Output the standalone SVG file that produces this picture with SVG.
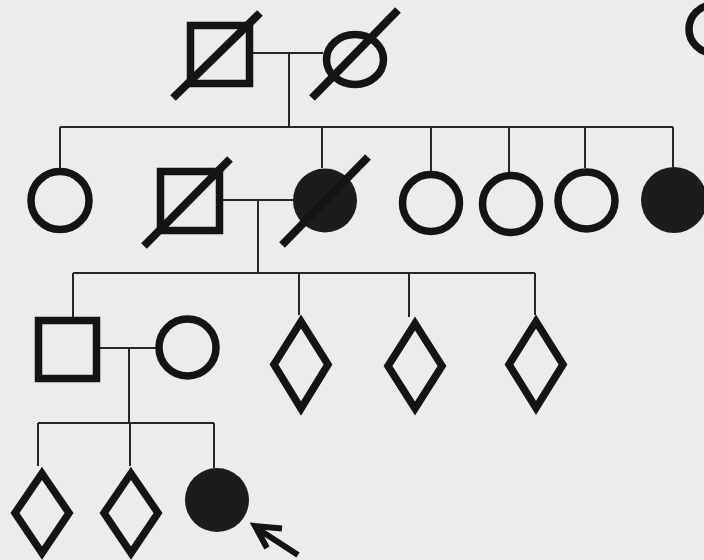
<svg xmlns="http://www.w3.org/2000/svg" width="704" height="560" viewBox="0 0 704 560">
  <style>
    .sym { fill: none; stroke: #141414; stroke-width: 7.5; stroke-linejoin: miter; }
    .aff { fill: #1c1c1c; stroke: none; }
    .dead { stroke: #141414; stroke-width: 8; stroke-linecap: butt; }
    .con { fill: none; stroke: #262626; stroke-width: 2; }
    .arrow { fill: none; stroke: #141414; stroke-width: 6; stroke-linecap: butt; stroke-linejoin: miter; }
  </style>
  <rect width="704" height="560" fill="#ececec"/>

  <g id="connectors">
    <!-- Generation I -->
    <path class="con" d="M253 53 H323 M289 53 V127"/>
    <path class="con" d="M60 127 H673"/>
    <path class="con" d="M60 127 V168 M322 127 V168 M431 127 V171 M509 127 V172 M585 127 V168 M673 127 V167"/>
    <!-- Generation II -->
    <path class="con" d="M223 200 H293 M258 200 V273"/>
    <path class="con" d="M73 273 H535"/>
    <path class="con" d="M73 273 V317 M299 273 V315 M409 273 V317 M535 273 V315"/>
    <!-- Generation III -->
    <path class="con" d="M100 348 H156 M129 348 V423"/>
    <path class="con" d="M38 423 H214"/>
    <path class="con" d="M38 423 V466 M130 423 V466 M214 423 V468"/>
  </g>

  <g id="I-1">
    <rect class="sym" x="190.5" y="25.5" width="59" height="58"/>
    <line class="dead" x1="173" y1="98" x2="260" y2="13"/>
  </g>
  <g id="I-2">
    <ellipse class="sym" cx="355" cy="59.5" rx="28.5" ry="25"/>
    <line class="dead" x1="312" y1="98" x2="398" y2="10"/>
  </g>
  <g id="partial-top-right">
    <circle class="sym" cx="713" cy="29" r="24"/>
  </g>

  <g id="II-1"><circle class="sym" cx="60" cy="200.5" r="29"/></g>
  <g id="II-2">
    <rect class="sym" x="160.5" y="171.5" width="59" height="59"/>
    <line class="dead" x1="144" y1="246" x2="230" y2="159"/>
  </g>
  <g id="II-3">
    <circle class="aff" cx="325" cy="200.5" r="32"/>
    <line class="dead" x1="282" y1="245" x2="368" y2="157"/>
  </g>
  <g id="II-4"><circle class="sym" cx="431" cy="203" r="28.5"/></g>
  <g id="II-5"><circle class="sym" cx="511" cy="204" r="28.5"/></g>
  <g id="II-6"><circle class="sym" cx="586.5" cy="200.5" r="28.5"/></g>
  <g id="II-7"><circle class="aff" cx="674" cy="200" r="33"/></g>

  <g id="III-1"><rect class="sym" x="38.5" y="320.5" width="58" height="58"/></g>
  <g id="III-2"><circle class="sym" cx="187.5" cy="347.5" r="28.5"/></g>
  <g id="III-3"><polygon class="sym" points="301,321.5 328,364.5 301,408.5 274,364.5"/></g>
  <g id="III-4"><polygon class="sym" points="415,323.5 442,366 415,408.5 388,366"/></g>
  <g id="III-5"><polygon class="sym" points="536,321.5 563,364.5 536,408 509,364.5"/></g>

  <g id="IV-1"><polygon class="sym" points="42,473.5 69,513 42,553 15,513"/></g>
  <g id="IV-2"><polygon class="sym" points="131,473.5 158,513 131,553 104,513"/></g>
  <g id="IV-3"><circle class="aff" cx="217" cy="500" r="32"/></g>

  <g id="proband-arrow">
    <path class="arrow" d="M298 555 L258 529"/>
    <path class="arrow" d="M282 528.5 L255 526 L267 548"/>
  </g>
</svg>
